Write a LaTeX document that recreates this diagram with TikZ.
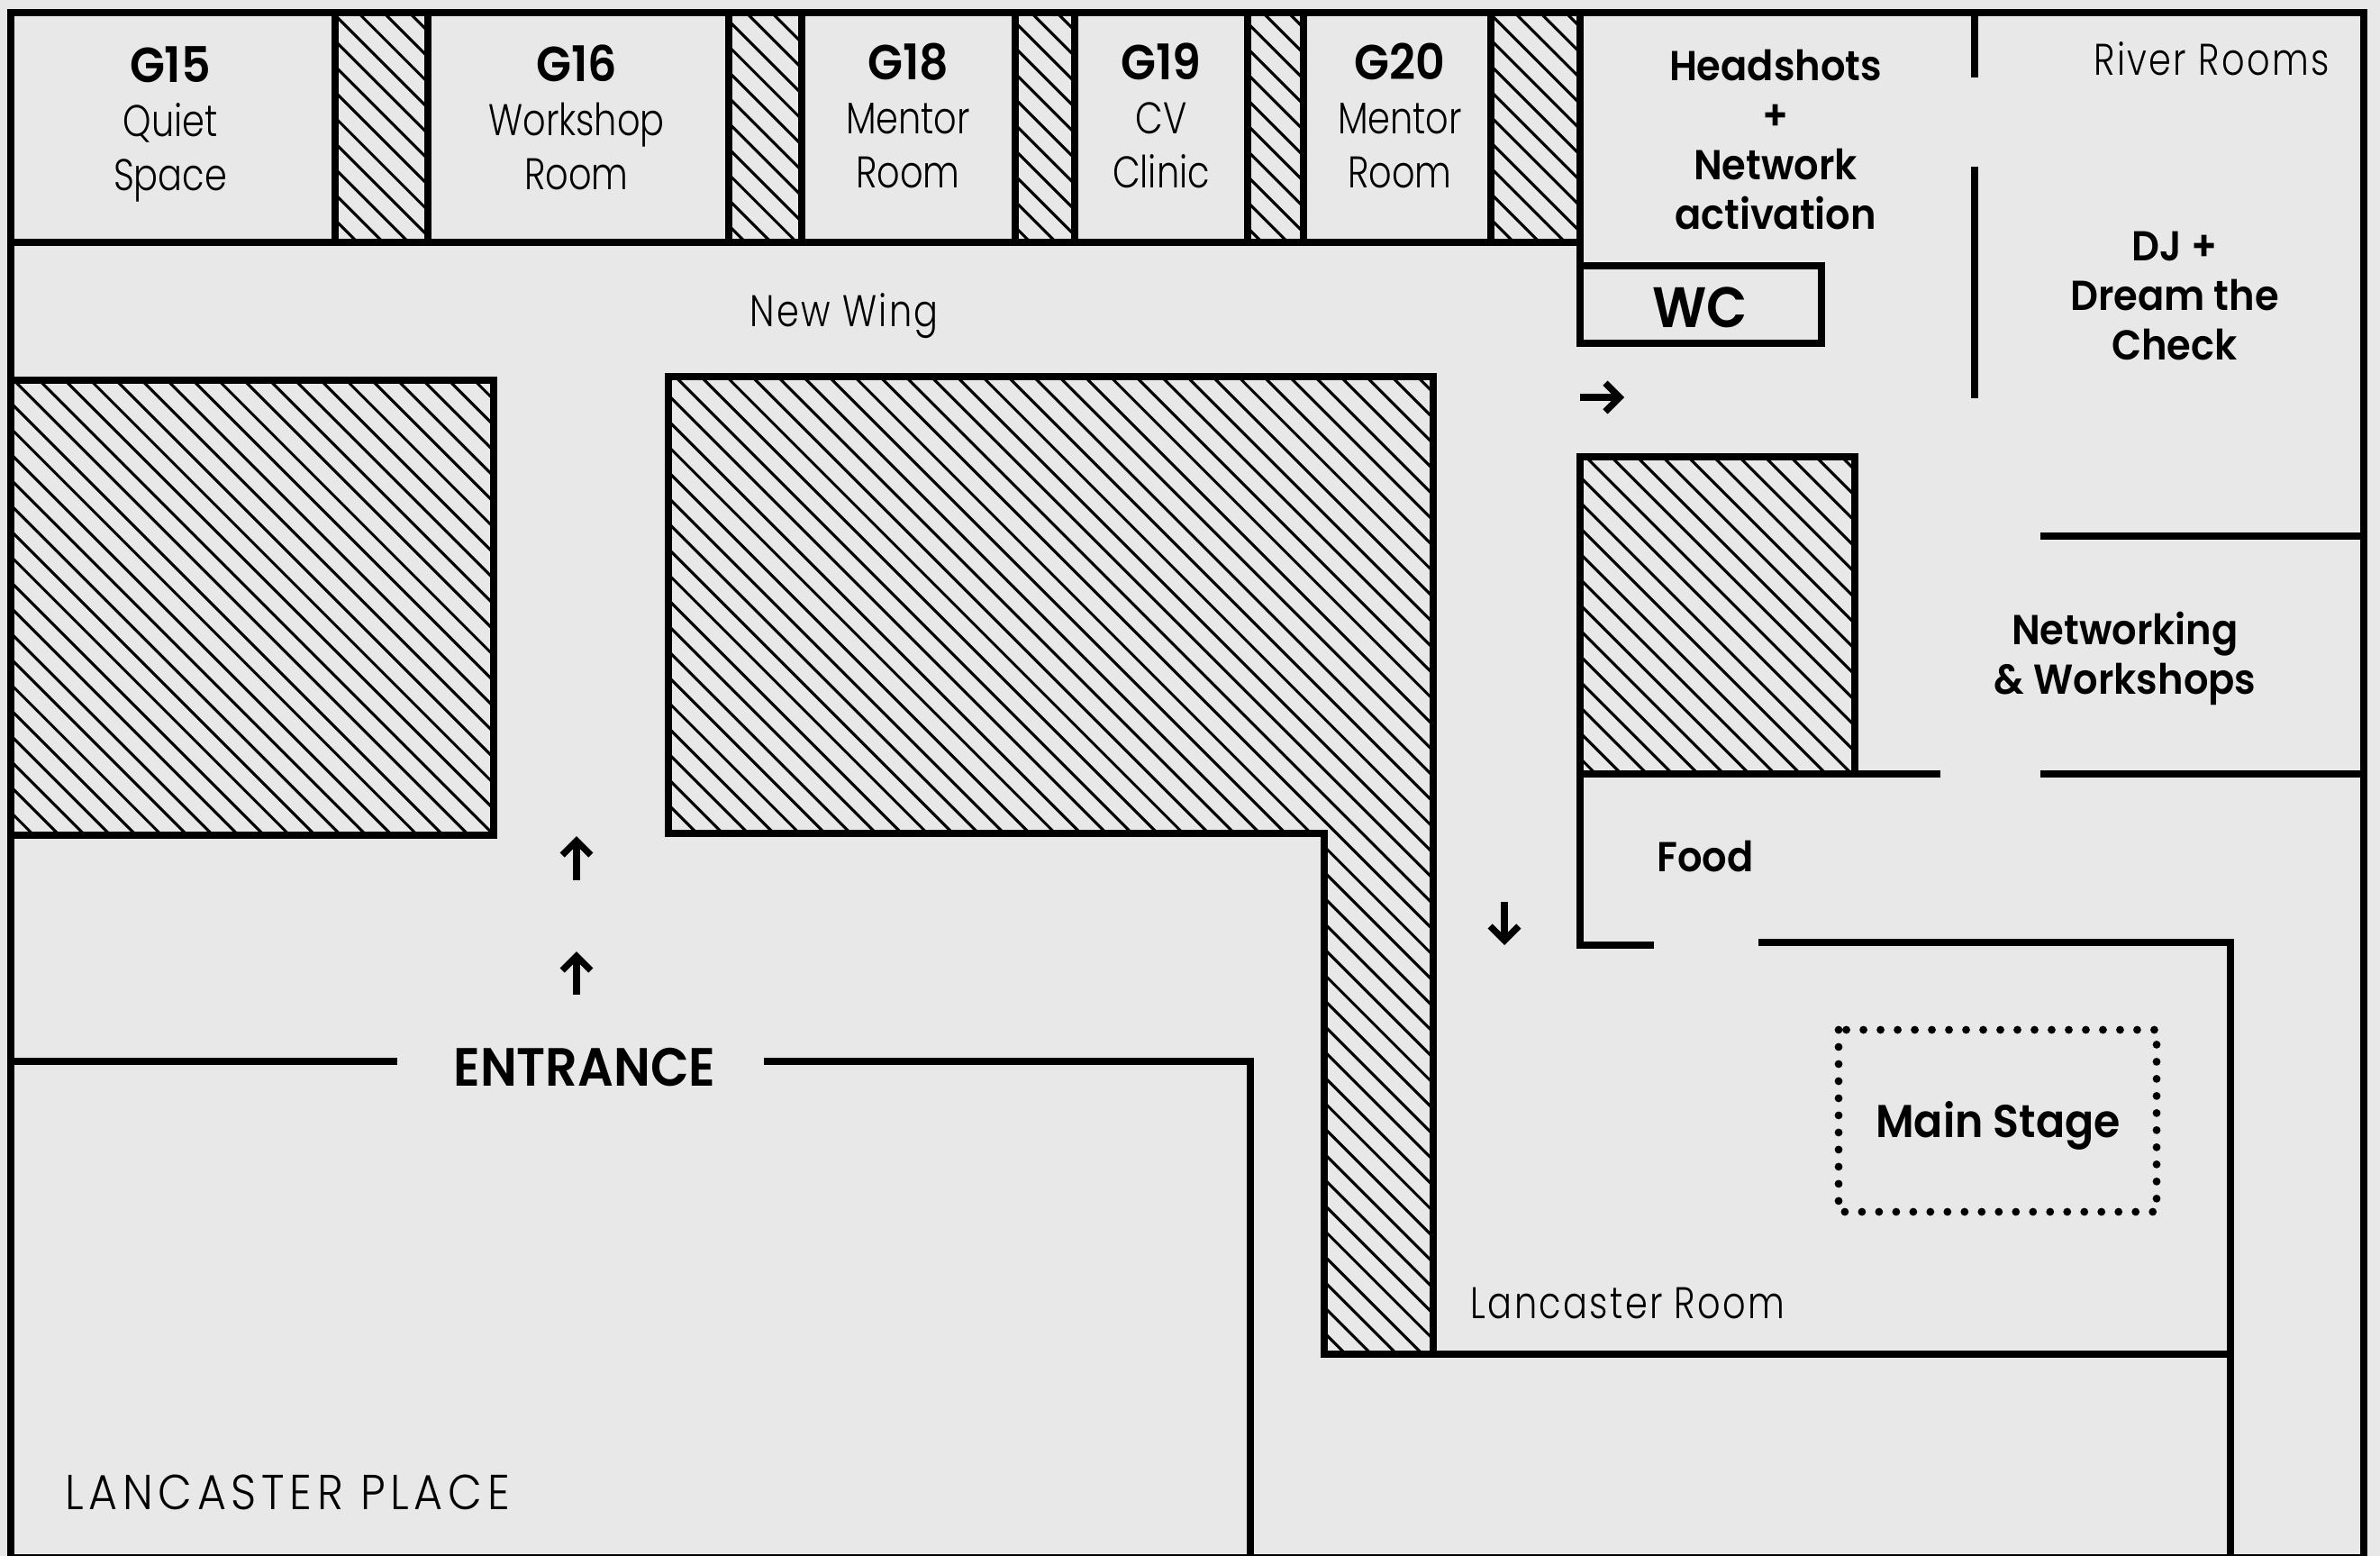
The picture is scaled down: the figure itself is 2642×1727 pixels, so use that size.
\documentclass[tikz,border=0pt]{standalone}
\usepackage{fontspec}
\setmainfont[FakeStretch=.81,BoldFont={Poppins SemiBold},BoldFeatures={FakeStretch=.93}]{Poppins Light}
\newfontfamily\spacedfont[FakeStretch=.81,LetterSpace=4.8]{Poppins Light}
\newfontfamily\placefont[FakeStretch=.9,LetterSpace=10.5]{Poppins Light}
\usetikzlibrary{arrows.meta}
\definecolor{floorgrey}{HTML}{E8E8E8}
\tikzset{
  wall/.style={line width=2.1pt,line cap=butt},
  hatchline/.style={line width=.9pt},
  walkarrow/.style={line width=2.1pt,-{Straight Barb[length=4.5pt,width=9pt,line width=2.1pt]}},
  stagebox/.style={line width=2.5pt,dash pattern=on 0pt off 5.4pt,line cap=round},
  roomlabel/.style={align=center,anchor=base,font=\fontsize{14}{17}\selectfont},
  boldlabel/.style={roomlabel,font=\bfseries\fontsize{13.2}{15.6}\selectfont},
  spacedlabel/.style={roomlabel,font=\spacedfont\fontsize{14}{17}\selectfont}
}
\newcommand{\hatchblock}[2]{%
  \begin{scope}
    \clip #1;
    \foreach \k in {-80,...,80}
      \draw[hatchline] ({#2+\k*28.4},0) -- +(1800,1800);
  \end{scope}}
\newcommand{\roomno}[1]{{\bfseries\fontsize{15.5}{17}\selectfont #1}}
\begin{document}
\begin{tikzpicture}[x=0.01cm,y=-0.01cm]
  \fill[floorgrey] (0,0) rectangle (2642,1727);
  \useasboundingbox (0,0) rectangle (2642,1727);
  % hatched blocks
  \foreach \xa/\xb/\hp in {372/475/383.5,809/890/814.3,1127/1193/1130.6,1385/1447/1387.8,1655/1754/1667.3} {
    \hatchblock{(\xa,14) rectangle (\xb,269)}{\hp}
    \draw[wall] (\xa,269) -- (\xa,14) -- (\xb,14) -- (\xb,269);
  }
  \hatchblock{(12,422) rectangle (548,927)}{-406.7}
  \draw[wall] (12,422) rectangle (548,927);
  \hatchblock{(742,418) -- (1591,418) -- (1591,1503) -- (1470,1503) -- (1470,925) -- (742,925) -- cycle}{331.7}
  \draw[wall] (742,418) -- (1591,418) -- (1591,1503) -- (1470,1503) -- (1470,925) -- (742,925) -- cycle;
  \hatchblock{(1754,507) rectangle (2059,859)}{1281.7}
  \draw[wall] (1754,507) rectangle (2059,859);
  % outer frame and walls
  \draw[wall,line width=2.3pt] (12,1729) -- (12,14) -- (2624,14) -- (2624,1729) -- cycle;
  \draw[wall] (12,269) -- (1754,269);
  \draw[wall] (1754,14) -- (1754,295);
  \draw[wall] (1754,295) rectangle (2022,381);
  \draw[wall] (2192,14) -- (2192,86);
  \draw[wall] (2192,185) -- (2192,442);
  \draw[wall] (2265,595) -- (2624,595);
  \draw[wall] (1754,859) -- (2154,859);
  \draw[wall] (2265,859) -- (2624,859);
  \draw[wall] (1754,859) -- (1754,1049) -- (1836,1049);
  \draw[wall] (1952,1046) -- (2476,1046) -- (2476,1727);
  \draw[wall] (1591,1503) -- (2476,1503);
  \draw[wall] (12,1178) -- (441,1178);
  \draw[wall] (848,1178) -- (1388,1178) -- (1388,1727);
  \draw[stagebox] (2041,1143) rectangle (2394,1345);
  % direction arrows
  \coordinate (upa) at (640,977);
  \coordinate (upb) at (640,928);
  \coordinate (upc) at (640,1104);
  \coordinate (upd) at (640,1056);
  \coordinate (righta) at (1754,441);
  \coordinate (rightb) at (1803,441);
  \coordinate (downa) at (1670,1001);
  \coordinate (downb) at (1670,1049);
  \draw[walkarrow] (upa) -- (upb);
  \draw[walkarrow] (upc) -- (upd);
  \draw[walkarrow] (righta) -- (rightb);
  \draw[walkarrow] (downa) -- (downb);
  % room labels
  \node[roomlabel] (gfifteen) at (189,211) {\roomno{G15}\\Quiet\\Space};
  \node[roomlabel] (gsixteen) at (640,210) {\roomno{G16}\\Workshop\\Room};
  \node[roomlabel] (geighteen) at (1008,208) {\roomno{G18}\\Mentor\\Room};
  \node[roomlabel] (gnineteen) at (1289,208) {\roomno{G19}\\CV\\Clinic};
  \node[roomlabel] (gtwenty) at (1554,208) {\roomno{G20}\\Mentor\\Room};
  \node[boldlabel] (headshots) at (1971,254) {Headshots\\+\\Network\\activation};
  \node[spacedlabel] (river) at (2455,83) {River Rooms};
  \node[spacedlabel] (newwing) at (937,362) {New Wing};
  \node[boldlabel,font=\bfseries\fontsize{18}{20}\selectfont] (wc) at (1887,363) {WC};
  \node[boldlabel] (djcheck) at (2414,399) {DJ +\\Dream the\\Check};
  \node[boldlabel] (networking) at (2359,770) {Networking\\\& Workshops};
  \node[boldlabel] (food) at (1893,967) {Food};
  \node[boldlabel,font=\bfseries\fontsize{17}{18}\selectfont] (entrance) at (649,1205) {ENTRANCE};
  \node[boldlabel,font=\bfseries\fontsize{14.5}{18}\selectfont] (mainstage) at (2218,1262) {Main Stage};
  \node[spacedlabel] (lancroom) at (1807,1463) {Lancaster Room};
  \node[roomlabel,font=\placefont\fontsize{15.5}{18}\selectfont] (lancplace) at (319,1675) {LANCASTER PLACE};
\end{tikzpicture}
\end{document}
